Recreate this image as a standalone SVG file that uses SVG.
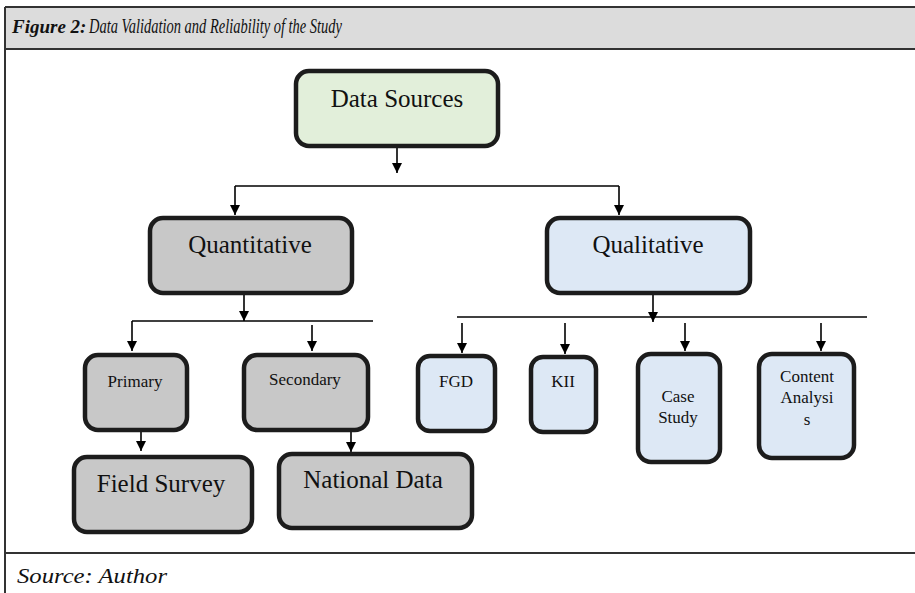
<svg xmlns="http://www.w3.org/2000/svg" width="915" height="593" viewBox="0 0 915 593">
  <style>
    .box { stroke: #1c1c1c; stroke-width: 4.5; }
    .green { fill: #e2efda; }
    .grey { fill: #c8c8c8; }
    .blue { fill: #dde8f5; }
    .lbl { font-family: "Liberation Serif", "Times New Roman", Times, serif; fill: #111; text-anchor: middle; }
    .big { font-size: 25px; }
    .small { font-size: 17px; }
    .conn { stroke: #000; stroke-width: 1.6; fill: none; }
    .frame { stroke: #333; stroke-width: 2; fill: none; }
    .cap { font-family: "Liberation Serif", "Times New Roman", serif; font-style: italic; fill: #111; }
  </style>
  <defs>
    <marker id="arrow" viewBox="0 0 10 10" refX="10" refY="5" markerWidth="10" markerHeight="10" markerUnits="userSpaceOnUse" orient="auto">
      <path d="M0,0 L10,5 L0,10 z" fill="#000"/>
    </marker>
  </defs>

  <rect width="915" height="593" fill="#fff"/>

  <!-- figure frame: title band, left rule, source rule -->
  <g id="frame">
    <rect x="5" y="7" width="910" height="42" fill="#dcdcdc"/>
    <line class="frame" x1="5" y1="7" x2="915" y2="7"/>
    <line class="frame" x1="5" y1="49" x2="915" y2="49"/>
    <line class="frame" x1="5" y1="7" x2="5" y2="593"/>
    <line class="frame" x1="5" y1="553" x2="915" y2="553"/>
    <text class="cap" x="12" y="33" font-size="19" font-weight="bold">Figure 2:</text>
    <text class="cap" x="89" y="33" font-size="20" textLength="253" lengthAdjust="spacingAndGlyphs">Data Validation and Reliability of  the Study</text>
    <text class="cap" x="17" y="583" font-size="22" textLength="150" lengthAdjust="spacingAndGlyphs">Source: Author</text>
  </g>

  <!-- connectors -->
  <g id="connectors">
    <line class="conn" x1="397" y1="147" x2="397" y2="173" marker-end="url(#arrow)"/>
    <line class="conn" x1="235" y1="186" x2="619" y2="186"/>
    <line class="conn" x1="235" y1="186" x2="235" y2="215" marker-end="url(#arrow)"/>
    <line class="conn" x1="619" y1="186" x2="619" y2="215" marker-end="url(#arrow)"/>

    <line class="conn" x1="244" y1="293" x2="244" y2="321" marker-end="url(#arrow)"/>
    <line class="conn" x1="132" y1="321" x2="373" y2="321"/>
    <line class="conn" x1="132" y1="321" x2="132" y2="351" marker-end="url(#arrow)"/>
    <line class="conn" x1="312" y1="325" x2="312" y2="351" marker-end="url(#arrow)"/>

    <line class="conn" x1="141" y1="420" x2="141" y2="451" marker-end="url(#arrow)"/>
    <line class="conn" x1="351" y1="423" x2="351" y2="452" marker-end="url(#arrow)"/>

    <line class="conn" x1="653" y1="293" x2="653" y2="322" marker-end="url(#arrow)"/>
    <line class="conn" x1="457" y1="317" x2="867" y2="317"/>
    <line class="conn" x1="462" y1="323" x2="462" y2="353" marker-end="url(#arrow)"/>
    <line class="conn" x1="565" y1="323" x2="565" y2="354" marker-end="url(#arrow)"/>
    <line class="conn" x1="685" y1="323" x2="685" y2="351" marker-end="url(#arrow)"/>
    <line class="conn" x1="821" y1="323" x2="821" y2="351" marker-end="url(#arrow)"/>
  </g>

  <g id="data-sources">
    <rect class="box green" x="296" y="71" width="202" height="75" rx="13"/>
    <text class="lbl big" x="397" y="107">Data Sources</text>
  </g>

  <g id="quantitative">
    <rect class="box grey" x="150" y="218" width="202" height="75" rx="13"/>
    <text class="lbl big" x="250" y="253">Quantitative</text>
  </g>

  <g id="qualitative">
    <rect class="box blue" x="547" y="218" width="203" height="75" rx="13"/>
    <text class="lbl big" x="648" y="253">Qualitative</text>
  </g>

  <g id="primary">
    <rect class="box grey" x="85" y="355" width="102" height="75" rx="13"/>
    <text class="lbl small" x="135" y="387">Primary</text>
  </g>

  <g id="secondary">
    <rect class="box grey" x="244" y="355" width="124" height="75" rx="13"/>
    <text class="lbl small" x="305" y="385">Secondary</text>
  </g>

  <g id="field-survey">
    <rect class="box grey" x="74" y="457" width="178" height="75" rx="13"/>
    <text class="lbl big" x="161" y="492">Field Survey</text>
  </g>

  <g id="national-data">
    <rect class="box grey" x="279" y="454" width="193" height="74" rx="13"/>
    <text class="lbl big" x="373" y="488">National Data</text>
  </g>

  <g id="fgd">
    <rect class="box blue" x="418" y="356" width="77" height="75" rx="12"/>
    <text class="lbl small" x="456" y="387">FGD</text>
  </g>

  <g id="kii">
    <rect class="box blue" x="531" y="357" width="65" height="75" rx="12"/>
    <text class="lbl small" x="563" y="387">KII</text>
  </g>

  <g id="case-study">
    <rect class="box blue" x="638" y="354" width="82" height="108" rx="13"/>
    <text class="lbl small" x="678" y="402">Case</text>
    <text class="lbl small" x="678" y="423">Study</text>
  </g>

  <g id="content-analysis">
    <rect class="box blue" x="759" y="354" width="95" height="104" rx="13"/>
    <text class="lbl small" x="807" y="382">Content</text>
    <text class="lbl small" x="807" y="403">Analysi</text>
    <text class="lbl small" x="807" y="425">s</text>
  </g>
</svg>
